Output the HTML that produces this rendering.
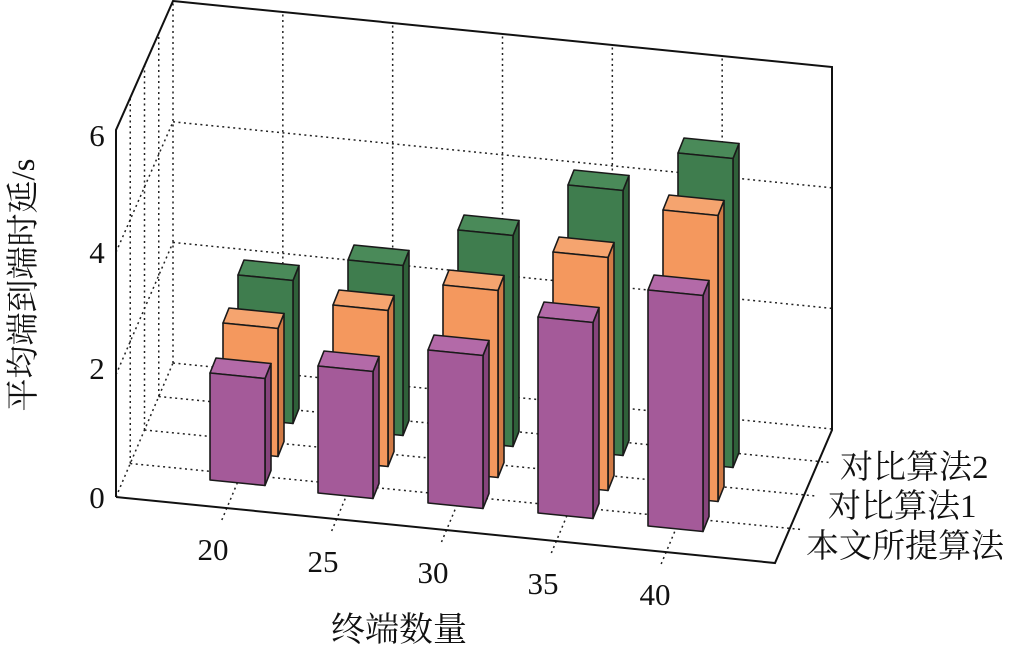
<!DOCTYPE html>
<html><head><meta charset="utf-8"><style>
body{margin:0;background:#fff;}
svg{display:block;}
text{font-family:"Liberation Serif","Noto Serif CJK SC",serif;fill:#111;}
</style></head><body>
<svg id="s" width="1015" height="651" viewBox="0 0 1015 651" xmlns="http://www.w3.org/2000/svg">
<g id="grid" stroke="#222" stroke-width="1.5" stroke-dasharray="2,3.5" fill="none"></g>
<g id="frame" stroke="#111" stroke-width="2" fill="none">
<polyline points="116,497 116,130 173,1 832,67 832,430 775,563 116,497"/>
</g>
<g id="bars" stroke="#1a1a1a" stroke-width="1.6" stroke-linejoin="round"></g>
<g font-size="31" text-anchor="middle">
<text x="97" y="146">6</text><text x="97" y="263">4</text><text x="97" y="379">2</text><text x="97" y="508">0</text>
<text x="213" y="560">20</text><text x="323" y="572">25</text><text x="433" y="583">30</text><text x="543" y="594">35</text><text x="655" y="605">40</text>
</g>
<g font-size="33">
<text x="840" y="478">对比算法2</text>
<text x="828" y="517">对比算法1</text>
<text x="806" y="557">本文所提算法</text>
<text x="331" y="641" font-size="34">终端数量</text>
<text transform="translate(34,285) rotate(-90)" text-anchor="middle" font-size="33">平均端到端时延/s</text>
</g>
</svg>
<script>
var ns="http://www.w3.org/2000/svg";
function P(g,pts,attrs){var e=document.createElementNS(ns,pts.length==2?"line":"polygon");
 if(pts.length==2){e.setAttribute("x1",pts[0][0]);e.setAttribute("y1",pts[0][1]);e.setAttribute("x2",pts[1][0]);e.setAttribute("y2",pts[1][1]);}
 else e.setAttribute("points",pts.map(p=>p.join(",")).join(" "));
 for(var k in attrs)e.setAttribute(k,attrs[k]);g.appendChild(e);}
var G=document.getElementById("grid");
function F(u,d){return [116+659*u+57*d,497+66*u-134*d];}
function Z(d){return 61.2-0.9*d;}
for(var k=1;k<=5;k++){var u=k/6;var b=F(u,1);P(G,[b,[b[0],b[1]-6*Z(1)]]);
 var f=F(u,0);P(G,[[f[0]-4,f[1]+12],b]);}
[2,4].forEach(function(z){var a=F(0,1),b=F(1,1);P(G,[[a[0],a[1]-z*Z(1)],[b[0],b[1]-z*Z(1)]]);
 var c=F(0,0);P(G,[[c[0],c[1]-z*Z(0)],[a[0],a[1]-z*Z(1)]]);});
P(G,[F(0,1),F(1,1)]);P(G,[F(0,0),F(0,1)]);P(G,[F(0,1),[173,1]]);
[0.25,0.5,0.75].forEach(function(d){var a=F(0,d),b=F(1,d);P(G,[a,[b[0]+12,b[1]]]);P(G,[a,[a[0],a[1]-6*Z(d)]]);});
var B=document.getElementById("bars");
var cols=[["#a45a99","#86447c","#b36aa8"],["#f4985e","#d07a45","#f5a46f"],["#3f7d4e","#2f6039","#4a8a59"]];
var data=[
 [[210,480,107],[318,493,127],[428,503,153],[538,513,196],[648,526,236]],
 [[223,451,128],[333,461,156],[443,472,187],[553,485,233],[663,496,286]],
 [[238,418,143],[348,430,170],[458,441,211],[568,450,265],[678,462,309]]];
for(var s=2;s>=0;s--){for(var i=0;i<5;i++){var L=data[s][i][0],Bt=data[s][i][1],H=data[s][i][2],W=55,sl=5.5,dx=6,dy=-15;
 var f1=[L,Bt],f2=[L+W,Bt+sl],f3=[L+W,Bt+sl-H],f4=[L,Bt-H];
 P(B,[f2,[f2[0]+dx,f2[1]+dy],[f3[0]+dx,f3[1]+dy],f3],{fill:cols[s][1]});
 P(B,[f4,f3,[f3[0]+dx,f3[1]+dy],[f4[0]+dx,f4[1]+dy]],{fill:cols[s][2]});
 P(B,[f1,f2,f3,f4],{fill:cols[s][0]});}}
</script>
</body></html>
